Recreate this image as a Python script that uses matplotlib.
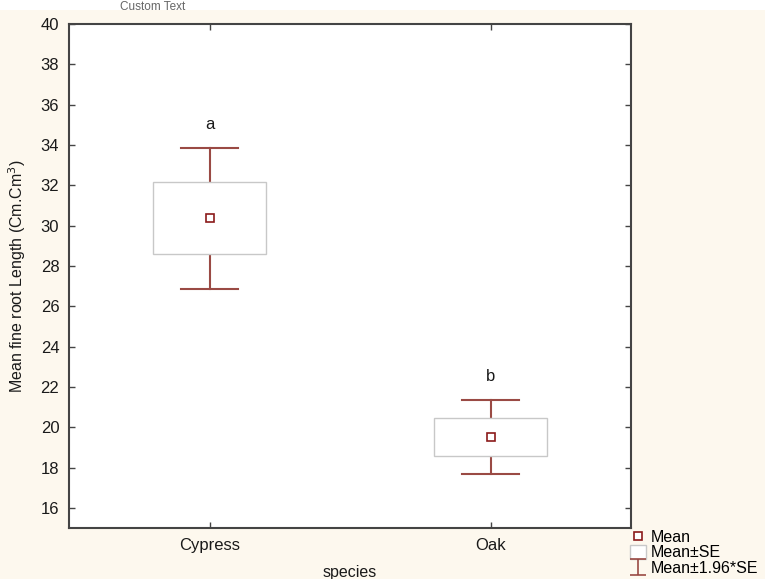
import numpy as np
import matplotlib.pyplot as plt
from matplotlib.patches import Rectangle, Patch
from matplotlib.lines import Line2D
from matplotlib.path import Path

plt.rcParams['font.family'] = ['Liberation Sans', 'DejaVu Sans']

species = ['Cypress', 'Oak']
means = [30.37, 19.53]
se = [1.78, 0.94]
ci = [3.50, 1.84]          # 1.96 * SE
letters = ['a', 'b']
yticks = list(range(16, 41, 2))

bg = '#fdf8ee'
whisker_col = '#9a4a44'
mean_col = '#8b1a1a'
box_col = '#c8c8c8'
txt_col = '#1a1a1a'

fig = plt.figure(figsize=(7.65, 5.79), dpi=100, facecolor=bg)
ax = fig.add_axes([69 / 765, 1 - 528 / 579, 562 / 765, 504 / 579])
ax.set_facecolor('white')

# white strip along the top edge with the caption
fig.patches.append(Rectangle((0, 1 - 10 / 579), 1, 10 / 579, transform=fig.transFigure,
                             facecolor='white', edgecolor='none', zorder=0))
fig.text(153 / 765, 1 - 1 / 579, 'Custom Text', ha='center', va='top',
         fontsize=8.5, color='#666666')

x = np.arange(len(species))
box_w = 0.4
cap_w = 0.2
for xi, m, s, c, lab in zip(x, means, se, ci, letters):
    # 1.96*SE whiskers
    ax.plot([xi, xi], [m + s, m + c], color=whisker_col, lw=1.5, zorder=2)
    ax.plot([xi, xi], [m - s, m - c], color=whisker_col, lw=1.5, zorder=2)
    ax.plot([xi - cap_w / 2, xi + cap_w / 2], [m + c, m + c], color=whisker_col, lw=1.5, zorder=2)
    ax.plot([xi - cap_w / 2, xi + cap_w / 2], [m - c, m - c], color=whisker_col, lw=1.5, zorder=2)
    # mean +- SE box
    ax.add_patch(Rectangle((xi - box_w / 2, m - s), box_w, 2 * s, facecolor='white',
                           edgecolor=box_col, lw=1.0, zorder=3))
    ax.plot(xi, m, marker='s', ms=6, mfc='white', mec=mean_col, mew=1.2, zorder=4)
    ax.text(xi, m + c + 0.75, lab, ha='center', va='bottom', fontsize=12, color=txt_col)

ax.set_xlim(-0.5, 1.5)
ax.set_ylim(15, 40)
ax.set_xticks(x)
ax.set_xticklabels(species)
ax.set_yticks(yticks)
ax.tick_params(direction='in', length=4, width=1, color='#444444', labelsize=12,
               labelcolor=txt_col, top=True, right=True, pad=7)
for sp in ax.spines.values():
    sp.set_color('#444444')
    sp.set_linewidth(1.5)

ax.set_ylabel('Mean fine root Length (Cm.Cm$^3$)', fontsize=11.5, color=txt_col, labelpad=9)
ax.set_xlabel('species', fontsize=11.5, color=txt_col, labelpad=9)

# legend handles: an "I" shaped marker for the 1.96*SE whiskers
i_path = Path([(-0.45, 0.5), (0.45, 0.5), (0, 0.5), (0, -0.5), (-0.45, -0.5), (0.45, -0.5)],
              [Path.MOVETO, Path.LINETO, Path.MOVETO, Path.LINETO, Path.MOVETO, Path.LINETO])
handles = [
    Line2D([], [], ls='none', marker='s', ms=6, mfc='white', mec=mean_col, mew=1.2),
    Patch(facecolor='white', edgecolor=box_col, lw=1.0),
    Line2D([], [], ls='none', marker=i_path, ms=12, mfc='none', mec=whisker_col, mew=1.2),
]
labels = ['Mean', 'Mean\u00b1SE', 'Mean\u00b11.96*SE']
fig.legend(handles, labels, loc='upper left', bbox_to_anchor=(627 / 765, 1 - 527 / 579),
           frameon=False, fontsize=11.5, handlelength=1.0, handleheight=0.9,
           handletextpad=0.3, labelspacing=0.0, borderaxespad=0, borderpad=0.2)

fig.savefig('out.png', dpi=100, facecolor=bg)
